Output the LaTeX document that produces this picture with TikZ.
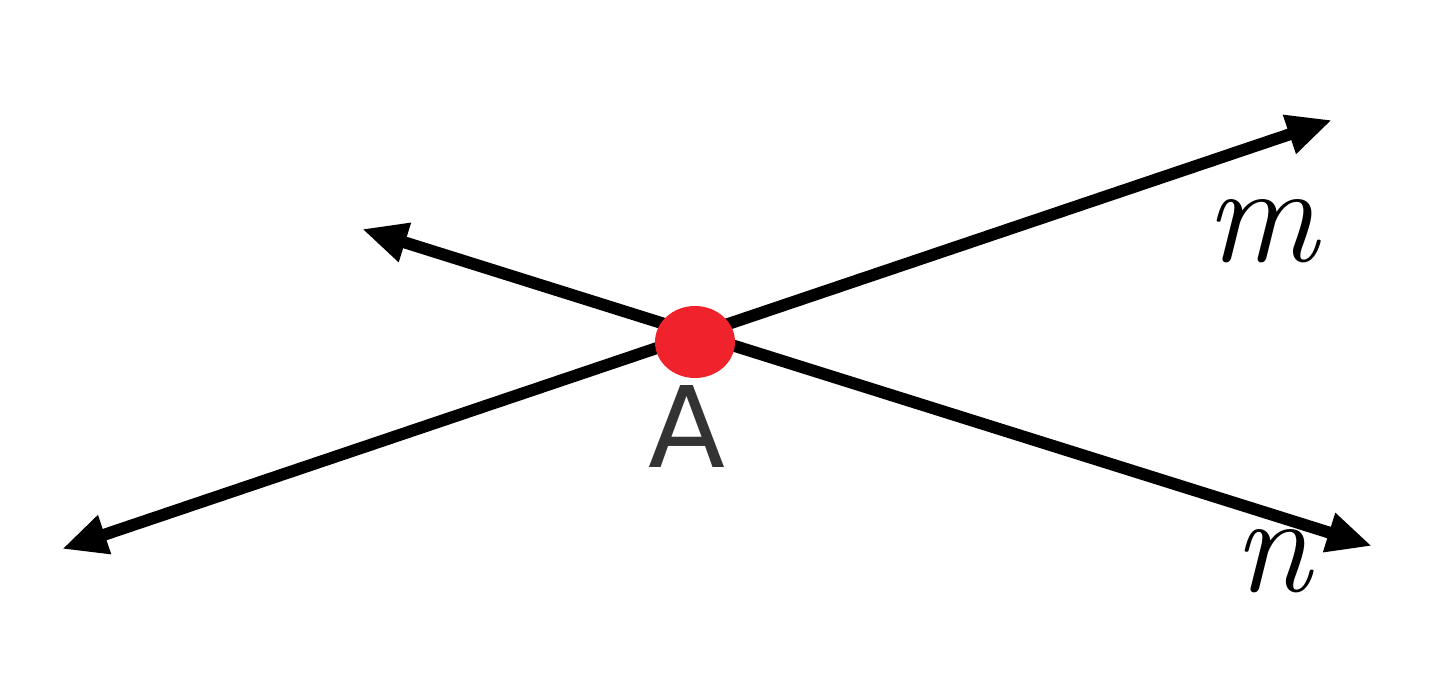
\documentclass[tikz,border=0pt]{standalone}
\usepackage{fontspec}
\newfontfamily\labelsans{DejaVu Sans}[Scale=1]
\usetikzlibrary{arrows.meta}
\definecolor{dotred}{HTML}{F0232D}
\definecolor{labgray}{HTML}{333333}
\tikzset{
  geoline/.style={line width=3.4pt, {Triangle[length=0.45cm,width=0.38cm]}-{Triangle[length=0.45cm,width=0.38cm]}},
  linelabel/.style={font=\fontsize{40}{40}\selectfont\itshape},
  pointlabel/.style={font=\labelsans\fontsize{32}{32}\selectfont, text=labgray}
}
\begin{document}
\begin{tikzpicture}
\useasboundingbox (0,0) rectangle (14.4,6.86);
\coordinate (m1) at (0.62,1.37);
\coordinate (m2) at (13.32,5.66);
\coordinate (n1) at (3.62,4.57);
\coordinate (n2) at (13.72,1.40);
\draw[geoline] (m1) -- (m2);
\draw[geoline] (n1) -- (n2);
\fill[dotred] (6.95,3.44) ellipse [x radius=0.4cm, y radius=0.36cm];
\node[pointlabel] (A) at (6.87,2.6) {A};
\node[linelabel] (m) at (12.62,4.55) {m};
\node[linelabel] (n) at (12.72,1.25) {n};
\end{tikzpicture}
\end{document}
